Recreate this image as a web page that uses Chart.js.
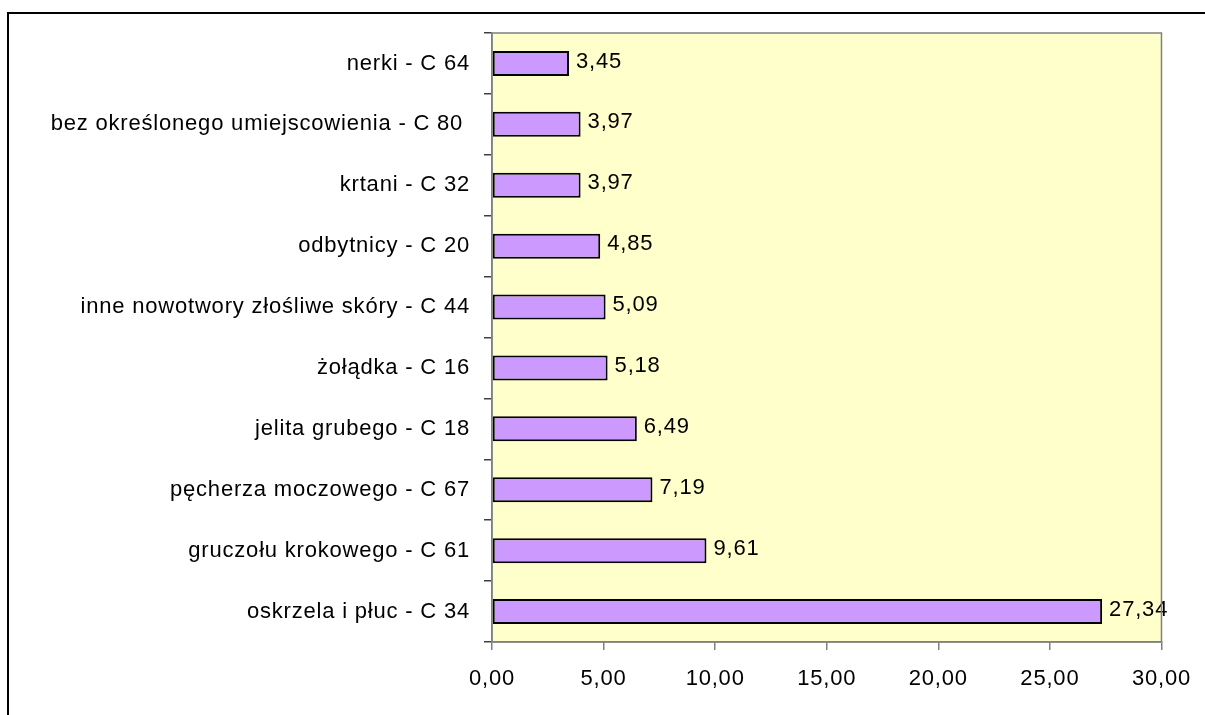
<!DOCTYPE html>
<html>
<head>
<meta charset="utf-8">
<script src="https://cdn.jsdelivr.net/npm/chart.js@4"></script>
<style>
    body { margin: 0; background: #fff; }
    #wrap { position: relative; width: 1205px; height: 715px; overflow: hidden; }
    #frame { position: absolute; left: 7px; top: 12px; width: 1300px; height: 800px; border-left: 2px solid #000; border-top: 2px solid #000; }
    canvas { position: absolute; left: 0; top: 0; }
</style>
</head>
<body>
<div id="wrap">
    <div id="frame"></div>
    <canvas id="bar-chart" width="1205" height="715"></canvas>
</div>
<script>
// Data
const categories = [
    'nerki - C 64',
    'bez określonego umiejscowienia - C 80 ',
    'krtani - C 32',
    'odbytnicy - C 20',
    'inne nowotwory złośliwe skóry - C 44',
    'żołądka - C 16',
    'jelita grubego - C 18',
    'pęcherza moczowego - C 67',
    'gruczołu krokowego - C 61',
    'oskrzela i płuc - C 34'
];
const values = [3.45, 3.97, 3.97, 4.85, 5.09, 5.18, 6.49, 7.19, 9.61, 27.34];
const xTicks = [0, 5, 10, 15, 20, 25, 30];

const fmt = v => v.toFixed(2).replace('.', ',');
const font = { family: '"Liberation Sans", Arial, sans-serif', size: 22 };

// Plot background and gray frame
const plotArea = {
    id: 'plotArea',
    beforeDraw(chart) {
        const a = chart.chartArea, ctx = chart.ctx;
        ctx.letterSpacing = '0.8px';
        ctx.save();
        ctx.fillStyle = '#FFFFCC';
        ctx.fillRect(a.left, a.top, a.right - a.left, a.bottom - a.top);
        ctx.restore();
    },
    afterDraw(chart) {
        const a = chart.chartArea, ctx = chart.ctx;
        ctx.save();
        ctx.strokeStyle = '#808080';
        ctx.lineWidth = 1.5;
        ctx.strokeRect(a.left, a.top, a.right - a.left, a.bottom - a.top);
        ctx.restore();
    }
};

// Value labels next to bars
const valueLabels = {
    id: 'valueLabels',
    afterDatasetsDraw(chart) {
        const ctx = chart.ctx;
        const meta = chart.getDatasetMeta(0);
        ctx.save();
        ctx.font = font.size + 'px ' + font.family;
        ctx.fillStyle = '#000';
        ctx.textAlign = 'left';
        ctx.textBaseline = 'middle';
        meta.data.forEach((bar, i) => {
            ctx.fillText(fmt(values[i]), bar.x + 7, bar.y - 2);
        });
        ctx.restore();
    }
};

const ctx = document.getElementById('bar-chart').getContext('2d');
new Chart(ctx, {
    type: 'bar',
    data: {
        labels: categories,
        datasets: [{
            data: values,
            backgroundColor: '#CC99FF',
            borderColor: '#000',
            borderWidth: 2,
            borderSkipped: false,
            categoryPercentage: 1,
            barPercentage: 0.41
        }]
    },
    options: {
        indexAxis: 'y',
        responsive: false,
        animation: false,
        layout: { padding: { left: 0, top: 33, right: 42, bottom: 0 } },
        plugins: {
            legend: { display: false },
            tooltip: { enabled: false }
        },
        scales: {
            x: {
                min: 0,
                max: 30,
                afterBuildTicks: axis => { axis.ticks = xTicks.map(v => ({ value: v })); },
                afterFit: axis => { axis.height = 73; },
                ticks: {
                    color: '#000',
                    font: font,
                    padding: 16,
                    maxRotation: 0,
                    callback: v => fmt(v)
                },
                grid: { drawOnChartArea: false, drawTicks: true, tickLength: 8, color: '#808080', lineWidth: 1.5 },
                border: { color: '#808080', width: 1.5 }
            },
            y: {
                afterFit: axis => { axis.width = 492; },
                ticks: { color: '#000', font: font, padding: 14 },
                grid: { offset: true, drawOnChartArea: false, drawTicks: true, tickLength: 8, color: '#404040', lineWidth: 1.5 },
                border: { color: '#808080', width: 1.5 }
            }
        }
    },
    plugins: [plotArea, valueLabels]
});
</script>
</body>
</html>
